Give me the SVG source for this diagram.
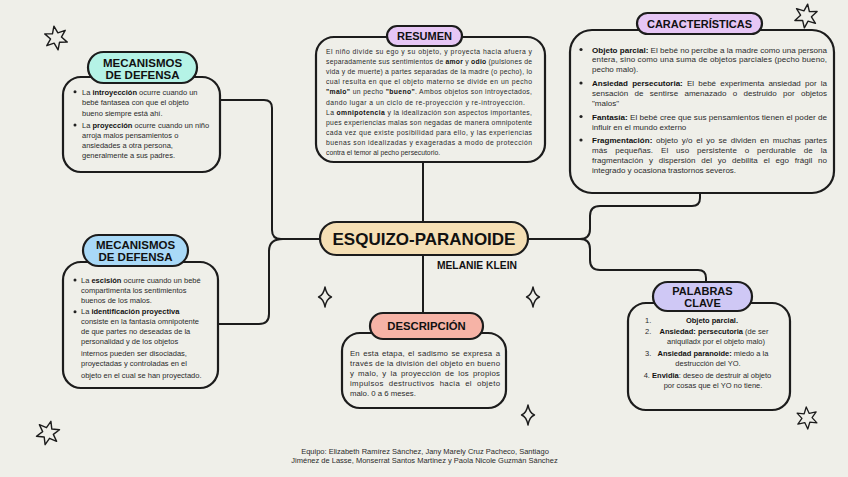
<svg xmlns="http://www.w3.org/2000/svg" xmlns:xlink="http://www.w3.org/1999/xlink" width="848" height="477" viewBox="0 0 848 477">
<style>
.box{fill:none;stroke:#1c1c1c;stroke-width:2.2}
.pill{stroke:#1c1c1c;stroke-width:2.2}
.ttl{font-family:"Liberation Sans",Arial,sans-serif;font-weight:bold;fill:#111;text-anchor:middle}
.t{font-family:"Liberation Sans",Arial,sans-serif;fill:#2b2b2b}
.b{font-weight:bold;fill:#111}
.con{fill:none;stroke:#1c1c1c;stroke-width:2}
.deco{fill:none;stroke:#1c1c1c;stroke-width:1.4;stroke-linejoin:round}
.dot{fill:#222}
</style>
<defs>
<polygon id="star6" points="0,-12 2.75,-4.76 10.39,-6 5.5,0 10.39,6 2.75,4.76 0,12 -2.75,4.76 -10.39,6 -5.5,0 -10.39,-6 -2.75,-4.76"/>
<path id="spark" d="M0,-10 Q1.6,-1.6 6.5,0 Q1.6,1.6 0,10 Q-1.6,1.6 -6.5,0 Q-1.6,-1.6 0,-10 Z"/>
</defs>
<rect width="848" height="477" fill="#efefe9"/>

<g id="connectors">
<path class="con" d="M220,100 H264 Q272,100 272,108 V230 Q272,239 281,239 H320"/>
<path class="con" d="M283,239 Q269,239 269,251 V314 Q269,324 259,324 H218"/>
<path class="con" d="M423,162 V222"/>
<path class="con" d="M423,255 V313"/>
<path class="con" d="M528,239 H580 Q590,239 590,229 V216 Q590,206 600,206 H692 Q700,206 700,198 V193"/>
<path class="con" d="M580,239 Q590,239 590,249 V260 Q590,270 600,270 H698 Q706,270 706,278 V283"/>
</g>

<g id="decorations">
<use xlink:href="#star6" class="deco" transform="translate(56,38) rotate(-10)"/>
<use xlink:href="#star6" class="deco" transform="translate(806,16) rotate(8)"/>
<use xlink:href="#star6" class="deco" transform="translate(807,418) rotate(-4) scale(0.92)"/>
<use xlink:href="#star6" class="deco" transform="translate(48,433) rotate(14)"/>
<use xlink:href="#spark" class="deco" transform="translate(325,297)"/>
<use xlink:href="#spark" class="deco" transform="translate(533,297)"/>
<use xlink:href="#spark" class="deco" transform="translate(528,415)"/>
</g>

<g id="node-center">
<rect class="pill" x="320" y="222" width="208" height="33" rx="16.5" fill="#f5dfb5"/>
<text class="ttl" x="424" y="244.5" font-size="17">ESQUIZO-PARANOIDE</text>
<text class="ttl" x="517" y="268.5" font-size="10.3" style="text-anchor:end">MELANIE KLEIN</text>
</g>

<g id="node-mecanismos-1">
<rect class="box" x="63" y="77" width="157" height="95" rx="18"/>
<rect class="pill" x="88" y="52" width="109" height="31" rx="15.5" fill="#b5f3e6"/>
<text class="ttl" x="142.5" y="66.5" font-size="11.5">MECANISMOS</text>
<text class="ttl" x="142.5" y="79.3" font-size="11.5">DE DEFENSA</text>
<circle class="dot" cx="75" cy="91.7" r="1.5"/>
<circle class="dot" cx="75" cy="125" r="1.5"/>
<text class="t" font-size="7.5">
<tspan x="82" y="94.5">La <tspan class="b">introyección</tspan> ocurre cuando un</tspan>
<tspan x="82" y="105">bebé fantasea con que el objeto</tspan>
<tspan x="82" y="116">bueno siempre está ahí.</tspan>
<tspan x="82" y="127.7">La <tspan class="b">proyección</tspan> ocurre cuando un niño</tspan>
<tspan x="82" y="137.7">arroja malos pensamientos o</tspan>
<tspan x="82" y="147.7">ansiedades a otra persona,</tspan>
<tspan x="82" y="157.7">generalmente a sus padres.</tspan>
</text>
</g>

<g id="node-mecanismos-2">
<rect class="box" x="63" y="262" width="155" height="126" rx="18"/>
<rect class="pill" x="83" y="235" width="105" height="31" rx="15.5" fill="#a9d9f7"/>
<text class="ttl" x="135.5" y="248.5" font-size="11.5">MECANISMOS</text>
<text class="ttl" x="135.5" y="261.2" font-size="11.5">DE DEFENSA</text>
<circle class="dot" cx="75" cy="280" r="1.5"/>
<circle class="dot" cx="75" cy="311.7" r="1.5"/>
<text class="t" font-size="7.5">
<tspan x="81" y="282.7">La <tspan class="b">escisión</tspan> ocurre cuando un bebé</tspan>
<tspan x="81" y="292.7">compartimenta los sentimientos</tspan>
<tspan x="81" y="302.7">buenos de los malos.</tspan>
<tspan x="81" y="314.4">La <tspan class="b">identificación proyectiva</tspan></tspan>
<tspan x="81" y="324.4">consiste en la fantasía omnipotente</tspan>
<tspan x="81" y="334.4">de que partes no deseadas de la</tspan>
<tspan x="81" y="344.4">personalidad y de los objetos</tspan>
<tspan x="81" y="356">internos pueden ser disociadas,</tspan>
<tspan x="81" y="366">proyectadas y controladas en el</tspan>
<tspan x="81" y="377.7">objeto en el cual se han proyectado.</tspan>
</text>
</g>

<g id="node-resumen">
<rect class="box" x="316" y="37" width="229" height="125" rx="18"/>
<rect class="pill" x="387" y="26" width="75" height="20" rx="10" fill="#e6c6f5"/>
<text class="ttl" x="424.5" y="40" font-size="11">RESUMEN</text>
<g class="t" font-size="6.8">
<text x="326" y="53.7" textLength="206" lengthAdjust="spacing">El niño divide su ego y su objeto, y proyecta hacia afuera y</text>
<text x="326" y="63.9" textLength="206" lengthAdjust="spacing">separadamente sus sentimientos de <tspan class="b">amor</tspan> y <tspan class="b">odio</tspan> (pulsiones de</text>
<text x="326" y="74" textLength="206" lengthAdjust="spacing">vida y de muerte) a partes separadas de la madre (o pecho), lo</text>
<text x="326" y="84.2" textLength="206" lengthAdjust="spacing">cual resulta en que el objeto materno se divide en un pecho</text>
<text x="326" y="94.4" textLength="206" lengthAdjust="spacing"><tspan class="b">"malo"</tspan> un pecho <tspan class="b">"bueno"</tspan>. Ambos objetos son introyectados,</text>
<text x="326" y="104.6" textLength="199" lengthAdjust="spacing">dando lugar a un ciclo de re-proyección y re-introyección.</text>
<text x="326" y="114.7" textLength="206" lengthAdjust="spacing">La <tspan class="b">omnipotencia</tspan> y la idealización son aspectos importantes,</text>
<text x="326" y="124.9" textLength="206" lengthAdjust="spacing">pues experiencias malas son negadas de manera omnipotente</text>
<text x="326" y="135.1" textLength="206" lengthAdjust="spacing">cada vez que existe posibilidad para ello, y las experiencias</text>
<text x="326" y="145.2" textLength="206" lengthAdjust="spacing">buenas son idealizadas y exageradas a modo de protección</text>
<text x="326" y="155.4">contra el temor al pecho persecutorio.</text>
</g>
</g>

<g id="node-caracteristicas">
<rect class="box" x="570" y="30" width="264" height="163" rx="22"/>
<rect class="pill" x="637" y="13" width="125" height="21" rx="10.5" fill="#e6c6f5"/>
<text class="ttl" x="699.5" y="27.5" font-size="11">CARACTERÍSTICAS</text>
<circle class="dot" cx="581" cy="49.5" r="1.6"/>
<circle class="dot" cx="581" cy="83" r="1.6"/>
<circle class="dot" cx="581" cy="116.5" r="1.6"/>
<circle class="dot" cx="581" cy="140" r="1.6"/>
<g class="t" font-size="8">
<text x="592" y="53" textLength="235" lengthAdjust="spacingAndGlyphs"><tspan class="b">Objeto parcial:</tspan> El bebé no percibe a la madre como una persona</text>
<text x="592" y="62.4" textLength="235" lengthAdjust="spacing">entera, sino como una suma de objetos parciales (pecho bueno,</text>
<text x="592" y="72.3">pecho malo).</text>
<text x="592" y="86.3" textLength="235" lengthAdjust="spacing" word-spacing="2"><tspan class="b">Ansiedad persecutoria:</tspan> El bebé experimenta ansiedad por la</text>
<text x="592" y="95.7" textLength="235" lengthAdjust="spacing" word-spacing="4">sensación de sentirse amenazado o destruido por objetos</text>
<text x="592" y="105.7">"malos"</text>
<text x="592" y="119.7" textLength="235" lengthAdjust="spacingAndGlyphs"><tspan class="b">Fantasía:</tspan> El bebé cree que sus pensamientos tienen el poder de</text>
<text x="592" y="129.7">influir en el mundo externo</text>
<text x="592" y="143" textLength="235" lengthAdjust="spacing" word-spacing="1.5"><tspan class="b">Fragmentación:</tspan>  objeto y/o el yo se dividen en muchas partes</text>
<text x="592" y="153" textLength="235" lengthAdjust="spacing" word-spacing="5.5">más pequeñas. El uso persistente o perdurable de la</text>
<text x="592" y="163" textLength="235" lengthAdjust="spacing" word-spacing="3.5">fragmentación y dispersión del yo debilita el ego frágil no</text>
<text x="592" y="173">integrado y ocasiona trastornos severos.</text>
</g>
</g>

<g id="node-descripcion">
<rect class="box" x="342" y="333" width="164" height="75" rx="18"/>
<rect class="pill" x="370" y="313" width="113" height="26" rx="13" fill="#f6b3a6"/>
<text class="ttl" x="426.5" y="330.3" font-size="11.3">DESCRIPCIÓN</text>
<g class="t" font-size="7.8">
<text x="350" y="355.6" textLength="150" lengthAdjust="spacing" word-spacing="1">En esta etapa, el sadismo se expresa a</text>
<text x="350" y="365.6" textLength="150" lengthAdjust="spacing">través de la división del objeto en bueno</text>
<text x="350" y="375.6" textLength="150" lengthAdjust="spacing" word-spacing="1.5">y malo, y la proyección de los propios</text>
<text x="350" y="385.6" textLength="150" lengthAdjust="spacing" word-spacing="2.5">impulsos destructivos hacia el objeto</text>
<text x="350" y="395.6">malo. 0 a 6 meses.</text>
</g>
</g>

<g id="node-palabras">
<rect class="box" x="628" y="303" width="162" height="107" rx="18"/>
<rect class="pill" x="653" y="282" width="99" height="29" rx="14.5" fill="#cfc8f5"/>
<text class="ttl" x="702.5" y="295" font-size="11">PALABRAS</text>
<text class="ttl" x="702.5" y="307.2" font-size="11">CLAVE</text>
<g class="t" font-size="7.5">
<text x="645" y="322.6">1.</text>
<text x="712" y="322.6" text-anchor="middle" class="b">Objeto parcial.</text>
<text x="645" y="334.3">2.</text>
<text x="714" y="334.3" text-anchor="middle"><tspan class="b">Ansiedad: persecutoria</tspan> (de ser</text>
<text x="716" y="344.3" text-anchor="middle">aniquiladx por el objeto malo)</text>
<text x="645" y="355.9">3.</text>
<text x="713" y="355.9" text-anchor="middle"><tspan class="b">Ansiedad paranoide:</tspan> miedo a la</text>
<text x="708" y="365.9" text-anchor="middle">destrucción del YO.</text>
<text x="707.5" y="377.6" text-anchor="middle">4. <tspan class="b">Envidia</tspan>: deseo de destruir al objeto</text>
<text x="713" y="387.6" text-anchor="middle">por cosas que el YO no tiene.</text>
</g>
</g>

<g id="footer" class="t" font-size="7.5" text-anchor="middle">
<text x="425" y="453.6">Equipo: Elizabeth Ramírez Sánchez, Jany Marely Cruz Pacheco, Santiago</text>
<text x="424.5" y="462.6">Jiménez de Lasse, Monserrat Santos Martinez y Paola Nicole Guzmán Sánchez</text>
</g>
</svg>
